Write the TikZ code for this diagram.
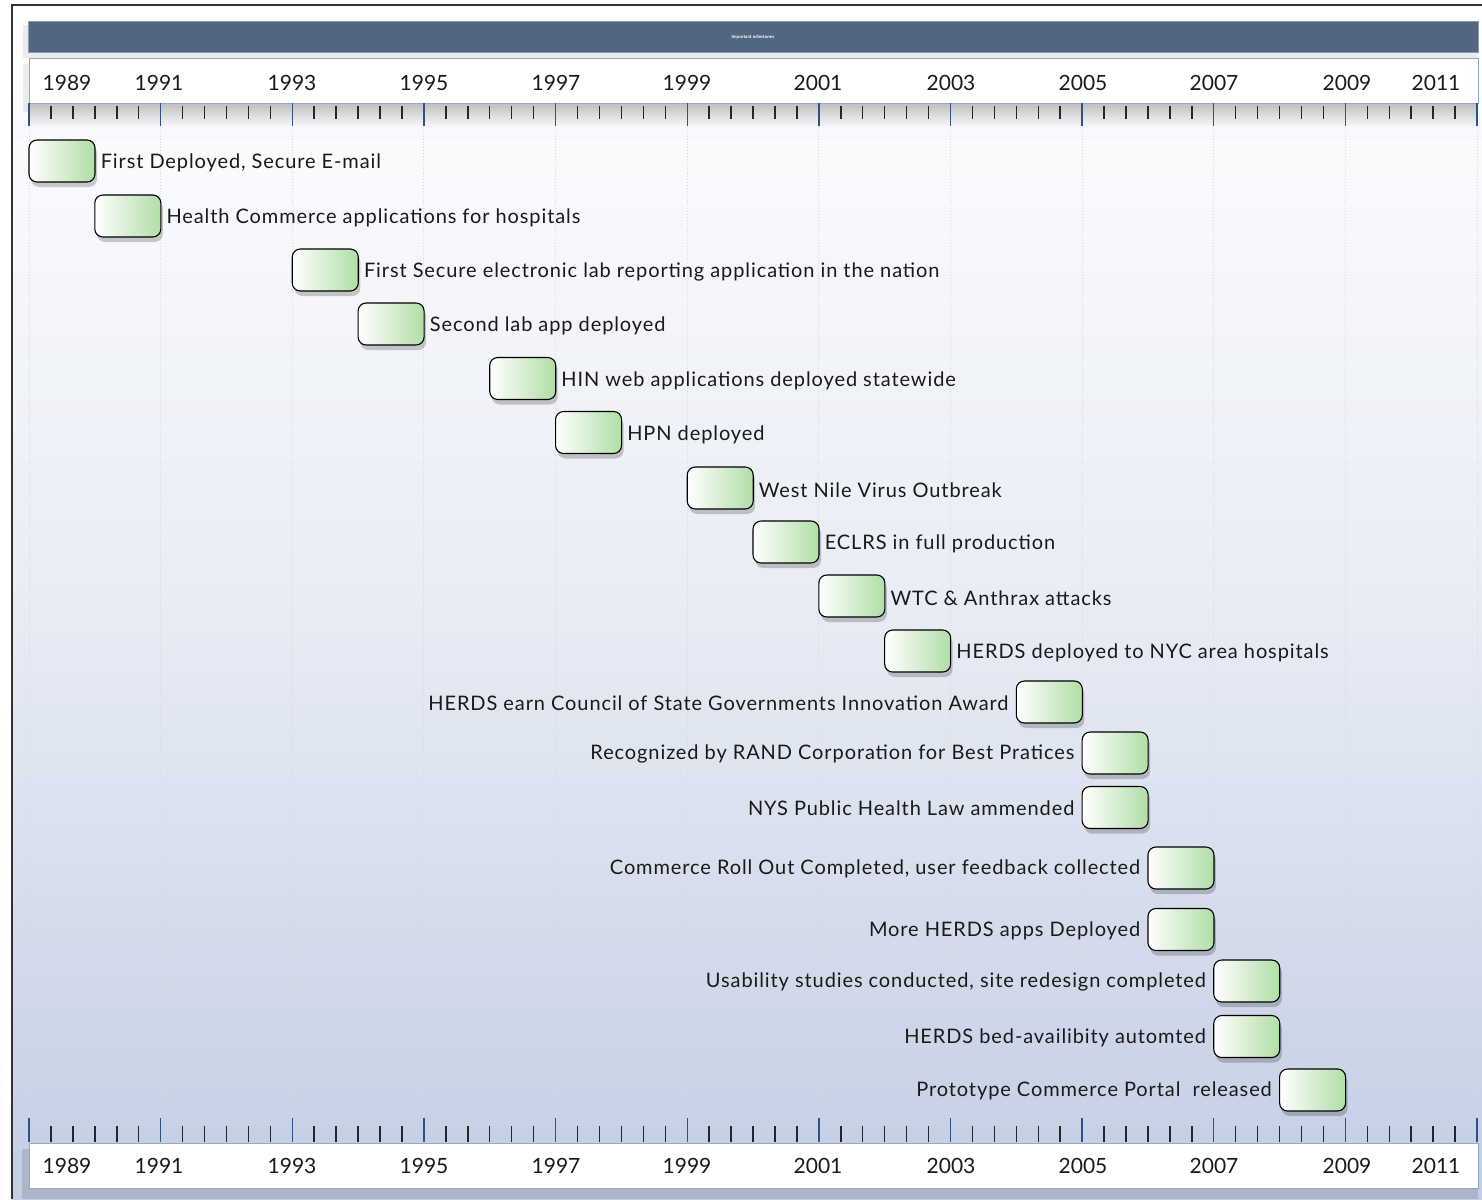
\documentclass[tikz,border=0pt]{standalone}
\usepackage{fontspec}
\setmainfont{Lato}
\newfontfamily\labfont[LetterSpace=4.5]{Lato}
\usetikzlibrary{shadows}
\definecolor{titlebar}{HTML}{536680}
\definecolor{titleedge}{HTML}{8C9BB2}
\definecolor{stripborder}{HTML}{8FA8CC}
\definecolor{majtick}{HTML}{2E5282}
\definecolor{bgtop}{HTML}{F8F9FC}
\definecolor{bgbot}{HTML}{C3CEE4}
\definecolor{boxgreen}{HTML}{B0DEA6}
\definecolor{gridc}{HTML}{DADADA}
\definecolor{txt}{HTML}{1A1A1A}
\definecolor{framec}{HTML}{333333}
\begin{document}
\begin{tikzpicture}[x=1pt,y=-1pt,
  msbox/.style={draw=black, line width=1.1pt, rounded corners=8pt,
    minimum width=66pt, minimum height=42pt, inner sep=0pt,
    left color=white, right color=boxgreen,
    drop shadow={shadow xshift=2pt, shadow yshift=-5pt, opacity=0.2, fill=black}},
  mslabel/.style={font=\labfont\fontsize{20}{23}\selectfont, text=txt, inner sep=0pt},
  yearlab/.style={font=\fontsize{21}{24}\selectfont, text=txt, inner sep=0pt},
  strip/.style={fill=white, draw=stripborder, line width=1pt},
  majt/.style={draw=majtick, line width=1.4pt},
  mint/.style={draw=black!85, line width=1.5pt},
  gridl/.style={draw=gridc, line width=0.9pt, dotted}
]
\useasboundingbox (0,0) rectangle (1482,1199);
\fill[white] (0,0) rectangle (1482,1199);
% background
\shade[top color=white, bottom color=bgbot, middle color=bgtop!70!bgbot] (12,5) rectangle (1482,1199);
\fill[white] (13,6) rectangle (1482,58);
\shade[top color=white, bottom color=bgtop] (13,58) rectangle (1482,140);
% frame
\draw[framec, line width=1.5pt] (12,1199) -- (12,5) -- (1482,5);
% title bar
\fill[black, opacity=0.08] (23,25) rectangle (1478,58);
\node[draw=titleedge, fill=titlebar, line width=0.8pt, minimum width=1450pt, minimum height=31pt, inner sep=0pt] (title) at (753,36.5) {};
\node[text=white, font=\bfseries\fontsize{4.5}{5}\selectfont] (titletext) at (753,37) {Important milestones};
% top strip
\fill[black, opacity=0.07] (23,64) rectangle (1478,112);
\shade[top color=black!25, bottom color=bgtop] (29,103) rectangle (1478,127);
\node[strip, minimum width=1449pt, minimum height=44pt, inner sep=0pt] (topstrip) at (753.5,81) {};
% bottom strip
\fill[black, opacity=0.12] (22,1149) rectangle (1478,1199);
\node[strip, minimum width=1449pt, minimum height=45pt, inner sep=0pt] (botstrip) at (753.5,1165.5) {};
% gridlines and ticks
\foreach \k in {0,...,66}{
  \pgfmathsetmacro{\xx}{29+\k*21.94}
  \pgfmathtruncatemacro{\mm}{mod(\k,6)}
  \ifnum\mm=0
    \draw[gridl] (\xx,127) -- (\xx,1118);
    \draw[majt] (\xx,103) -- (\xx,126);
    \draw[majt] (\xx,1118) -- (\xx,1142);
  \else
    \draw[mint] (\xx,106) -- (\xx,119);
    \draw[mint] (\xx,1126) -- (\xx,1142);
  \fi
}
% year labels
\foreach \lx/\yr in {67/1989,159/1991,292/1993,424/1995,556/1997,687/1999,818/2001,951/2003,1083/2005,1214/2007,1347/2009,1436/2011}{
  \node[yearlab] (ty\yr) at (\lx,83) {\yr};
  \node[yearlab] (by\yr) at (\lx,1166) {\yr};
}
% milestones with labels on the right
\foreach \yr/\yy/\tx [count=\i] in {
  1989/161/{First Deployed, Secure E-mail},
  1990/216/{Health Commerce applications for hospitals},
  1993/270/{First Secure electronic lab reporting application in the nation},
  1994/324/{Second lab app deployed},
  1996/378.5/{HIN web applications deployed statewide},
  1997/432.5/{HPN deployed},
  1999/488/{West Nile Virus Outbreak},
  2000/542/{ECLRS in full production},
  2001/596/{WTC \& Anthrax attacks},
  2002/651/{HERDS deployed to NYC area hospitals}}{
  \node[msbox] (r\i) at ({29+(\yr-1989)*65.82+33},\yy) {};
  \node[mslabel, anchor=west] (rt\i) at ([xshift=5pt,yshift=-2pt]r\i.east) {\tx};
}
% milestones with labels on the left
\foreach \yr/\yy/\tx [count=\i] in {
  2004/702/{HERDS earn Council of State Governments Innovation Award},
  2005/753/{Recognized by RAND Corporation for Best Pratices},
  2005/807.5/{NYS Public Health Law ammended},
  2006/868/{Commerce Roll Out Completed, user feedback collected},
  2006/929.5/{More HERDS apps Deployed},
  2007/981/{Usability studies conducted, site redesign completed},
  2007/1036.5/{HERDS bed-availibity automted},
  2008/1090/{Prototype Commerce Portal~ released}}{
  \node[msbox] (l\i) at ({29+(\yr-1989)*65.82+33},\yy) {};
  \node[mslabel, anchor=east] (lt\i) at ([xshift=-7pt,yshift=-1pt]l\i.west) {\tx};
}
\end{tikzpicture}
\end{document}
